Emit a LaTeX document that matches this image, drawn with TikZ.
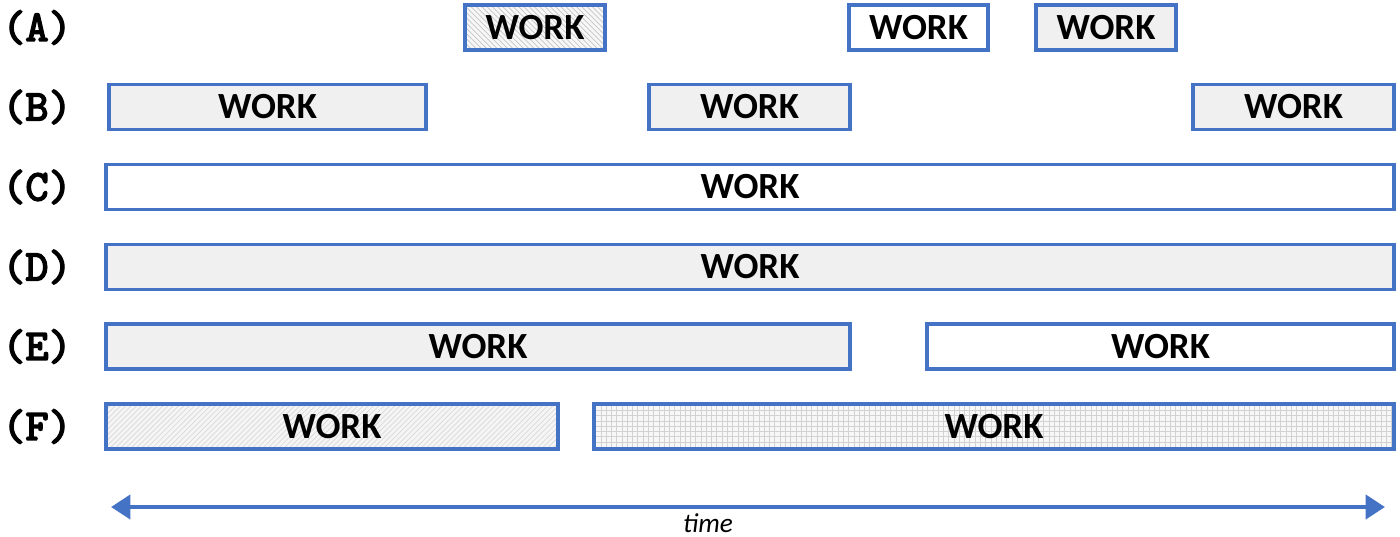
\documentclass[tikz,border=0pt]{standalone}
\usepackage{fontspec}
\setmainfont{Carlito}
\newfontfamily\rowfont{lmmono10-regular}[Extension=.otf, FakeBold=3.5]
\usepackage{tikz}
\usetikzlibrary{arrows.meta,patterns}

\definecolor{workblue}{HTML}{4472C4}

\tikzset{
  work/.style={draw=workblue, line width=2.2pt, minimum height=0.9cm, inner sep=0pt,
    font=\fontsize{21}{24}\selectfont\bfseries},
  plainfill/.style={fill=white},
  dotfill/.style={fill=gray!12},
  hatchfill/.style={preaction={fill=gray!6}, pattern=north west lines, pattern color=gray!45},
  slashfill/.style={preaction={fill=gray!8}, pattern=north east lines, pattern color=gray!30},
  gridfill/.style={preaction={fill=gray!6}, pattern=grid, pattern color=gray!35},
  rowlbl/.style={font=\rowfont\fontsize{25}{26}\selectfont}
}

\begin{document}
\begin{tikzpicture}[x=0.02cm,y=-0.02cm]
\useasboundingbox (0,0) rectangle (1400,537);

%% row labels
\node[rowlbl] (labA) at (37,27.5) {(A)};
\node[rowlbl] (labB) at (37,107) {(B)};
\node[rowlbl] (labC) at (37,187) {(C)};
\node[rowlbl] (labD) at (37,267) {(D)};
\node[rowlbl] (labE) at (37,346.5) {(E)};
\node[rowlbl] (labF) at (37,426.5) {(F)};

%% (A)
\node[work, hatchfill, minimum width=2.8cm] (workA1) at (535,27.5) {WORK};
\node[work, plainfill, minimum width=2.78cm] (workA2) at (918.5,27.5) {WORK};
\node[work, dotfill, minimum width=2.8cm] (workA3) at (1106,27.5) {WORK};

%% (B)
\node[work, dotfill, minimum width=6.34cm] (workB1) at (267.5,107) {WORK};
\node[work, dotfill, minimum width=4.02cm] (workB2) at (749.5,107) {WORK};
\node[work, dotfill, minimum width=4.02cm] (workB3) at (1293.5,107) {WORK};

%% (C)
\node[work, plainfill, minimum width=25.76cm] (workC) at (750,187) {WORK};

%% (D)
\node[work, dotfill, minimum width=25.76cm] (workD) at (750,267) {WORK};

%% (E)
\node[work, dotfill, minimum width=14.88cm] (workE1) at (478,346.5) {WORK};
\node[work, plainfill, minimum width=9.34cm] (workE2) at (1160.5,346.5) {WORK};

%% (F)
\node[work, slashfill, minimum width=9.04cm] (workF1) at (332,426.5) {WORK};
\node[work, gridfill, minimum width=16cm] (workF2) at (994,426.5) {WORK};

%% time axis
\coordinate (timeL) at (111,507);
\coordinate (timeR) at (1385,507);
\draw[workblue, line width=2.8pt, {Triangle[length=11pt,width=13.5pt]}-{Triangle[length=11pt,width=13.5pt]}] (timeL) -- (timeR);
\node[inner sep=1pt, font=\fontsize{15.5}{18}\selectfont\itshape] (timelbl) at (708,523) {time};

\end{tikzpicture}
\end{document}
